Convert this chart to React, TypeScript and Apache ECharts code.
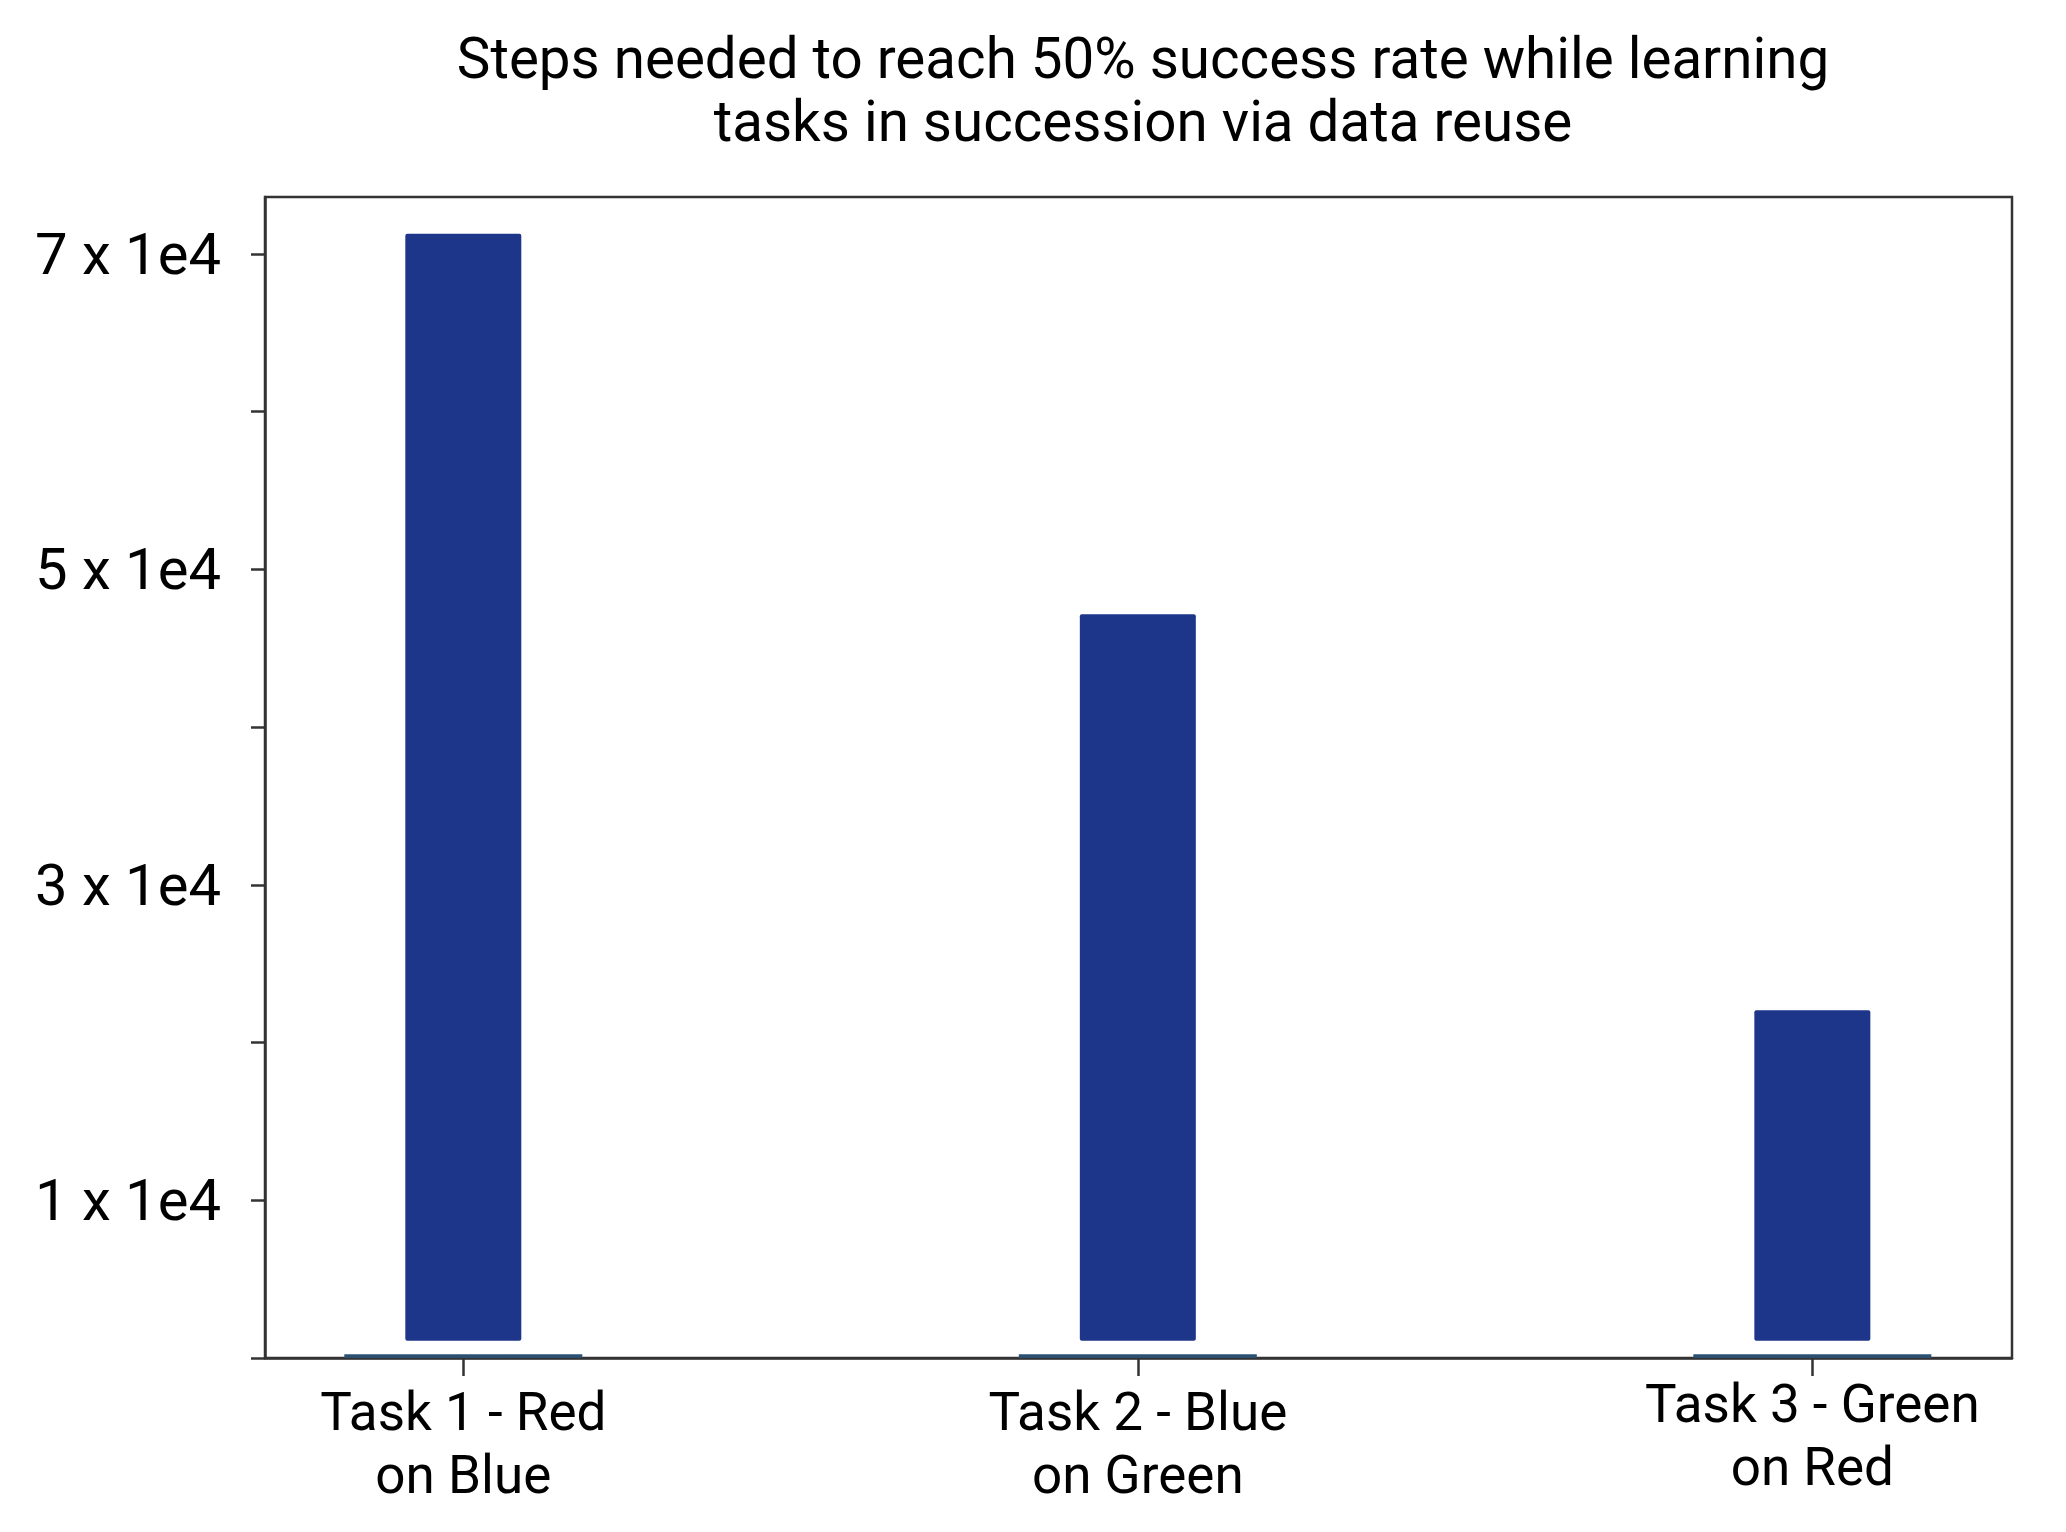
import React, { useEffect, useRef } from "react";
import * as echarts from "echarts";

const titleText = "Steps needed to reach 50% success rate while learning\ntasks in succession via data reuse";
const categories = ["Task 1 - Red\non Blue", "Task 2 - Blue\non Green", "Task 3 - Green\non Red"];
const positions = [0, 1, 2];
const barTops = [71270, 47150, 22050];
const barBottoms = [1100, 1100, 1100];
const baseLineValues = [230, 230, 230];
const yTickValues = [0, 10000, 20000, 30000, 40000, 50000, 60000, 70000];
const yLabelValues = [10000, 30000, 50000, 70000];
const xMin = -0.294;
const xMax = 2.296;
const yMax = 73600;

const FONT = "Roboto, 'Noto Sans', sans-serif";
const AXIS_COLOR = "#333333";
const BAR_COLOR = "#1e368a";
const BASE_COLOR = "#2c5072";
const BAR_PX = 116;

export default function App() {
  const ref = useRef<HTMLDivElement>(null);
  useEffect(() => {
    document.body.style.margin = "0";
    if (!ref.current) return;
    const chart = echarts.init(ref.current, undefined, { renderer: "svg" });
    const xAxisCommon = {
      type: "value" as const,
      min: xMin,
      max: xMax,
      splitLine: { show: false },
    };
    const labelFormatter = (v: number) => {
      const i = positions.indexOf(Math.round(v));
      return i >= 0 ? categories[i] : "";
    };
    const labelStyle = {
      fontFamily: FONT,
      fontSize: 53,
      lineHeight: 63,
      color: "#000",
      formatter: labelFormatter,
    };
    chart.setOption({
      animation: false,
      backgroundColor: "#ffffff",
      title: {
        text: titleText,
        left: 1138,
        top: 22,
        textAlign: "center",
        textStyle: {
          fontFamily: FONT,
          fontSize: 56.5,
          fontWeight: "normal",
          color: "#000",
          lineHeight: 63,
        },
      },
      grid: {
        left: 265,
        right: 54,
        top: 197,
        bottom: 174,
        show: true,
        borderColor: AXIS_COLOR,
        borderWidth: 2.5,
        backgroundColor: "transparent",
      },
      xAxis: [
        {
          ...xAxisCommon,
          position: "bottom",
          axisLine: { show: true, onZero: false, lineStyle: { color: AXIS_COLOR, width: 2.5 } },
          axisTick: {
            show: true,
            customValues: positions,
            length: 18,
            lineStyle: { color: AXIS_COLOR, width: 2.5 },
          },
          axisLabel: {
            show: true,
            customValues: positions.slice(0, 2),
            margin: 22,
            ...labelStyle,
          },
        },
        {
          ...xAxisCommon,
          position: "top",
          show: false,
        },
        {
          ...xAxisCommon,
          position: "bottom",
          axisLine: { show: false, onZero: false },
          axisTick: { show: false },
          axisLabel: {
            show: true,
            customValues: positions.slice(2),
            margin: 14,
            ...labelStyle,
          },
        },
      ],
      yAxis: {
        type: "value",
        min: 0,
        max: yMax,
        splitLine: { show: false },
        axisLine: { show: true, onZero: false, lineStyle: { color: AXIS_COLOR, width: 2.5 } },
        axisTick: {
          show: true,
          customValues: yTickValues,
          length: 14,
          lineStyle: { color: AXIS_COLOR, width: 2.5 },
        },
        axisLabel: {
          show: true,
          customValues: yLabelValues,
          margin: 44,
          fontFamily: FONT,
          fontSize: 58,
          color: "#000",
          formatter: (v: number) => `${v / 10000} x 1e4`,
        },
      },
      series: [
        {
          type: "bar",
          name: "base",
          xAxisIndex: 1,
          barWidth: 238,
          data: positions.map((p, i) => [p, baseLineValues[i]]),
          itemStyle: { color: BASE_COLOR },
          z: 3,
        },
        {
          type: "custom",
          name: "steps",
          xAxisIndex: 0,
          dimensions: ["x", "low", "high"],
          encode: { x: 0, y: [1, 2] },
          data: positions.map((p, i) => [p, barBottoms[i], barTops[i]]),
          renderItem: (params: any, api: any) => {
            const x = api.value(0);
            const top = api.coord([x, api.value(2)]);
            const bottom = api.coord([x, api.value(1)]);
            return {
              type: "rect",
              shape: {
                x: top[0] - BAR_PX / 2,
                y: top[1],
                width: BAR_PX,
                height: bottom[1] - top[1],
                r: 2,
              },
              style: { fill: BAR_COLOR },
            };
          },
          z: 4,
        },
      ],
    });
    return () => chart.dispose();
  }, []);
  return <div ref={ref} style={{ width: 2066, height: 1532 }} />;
}
